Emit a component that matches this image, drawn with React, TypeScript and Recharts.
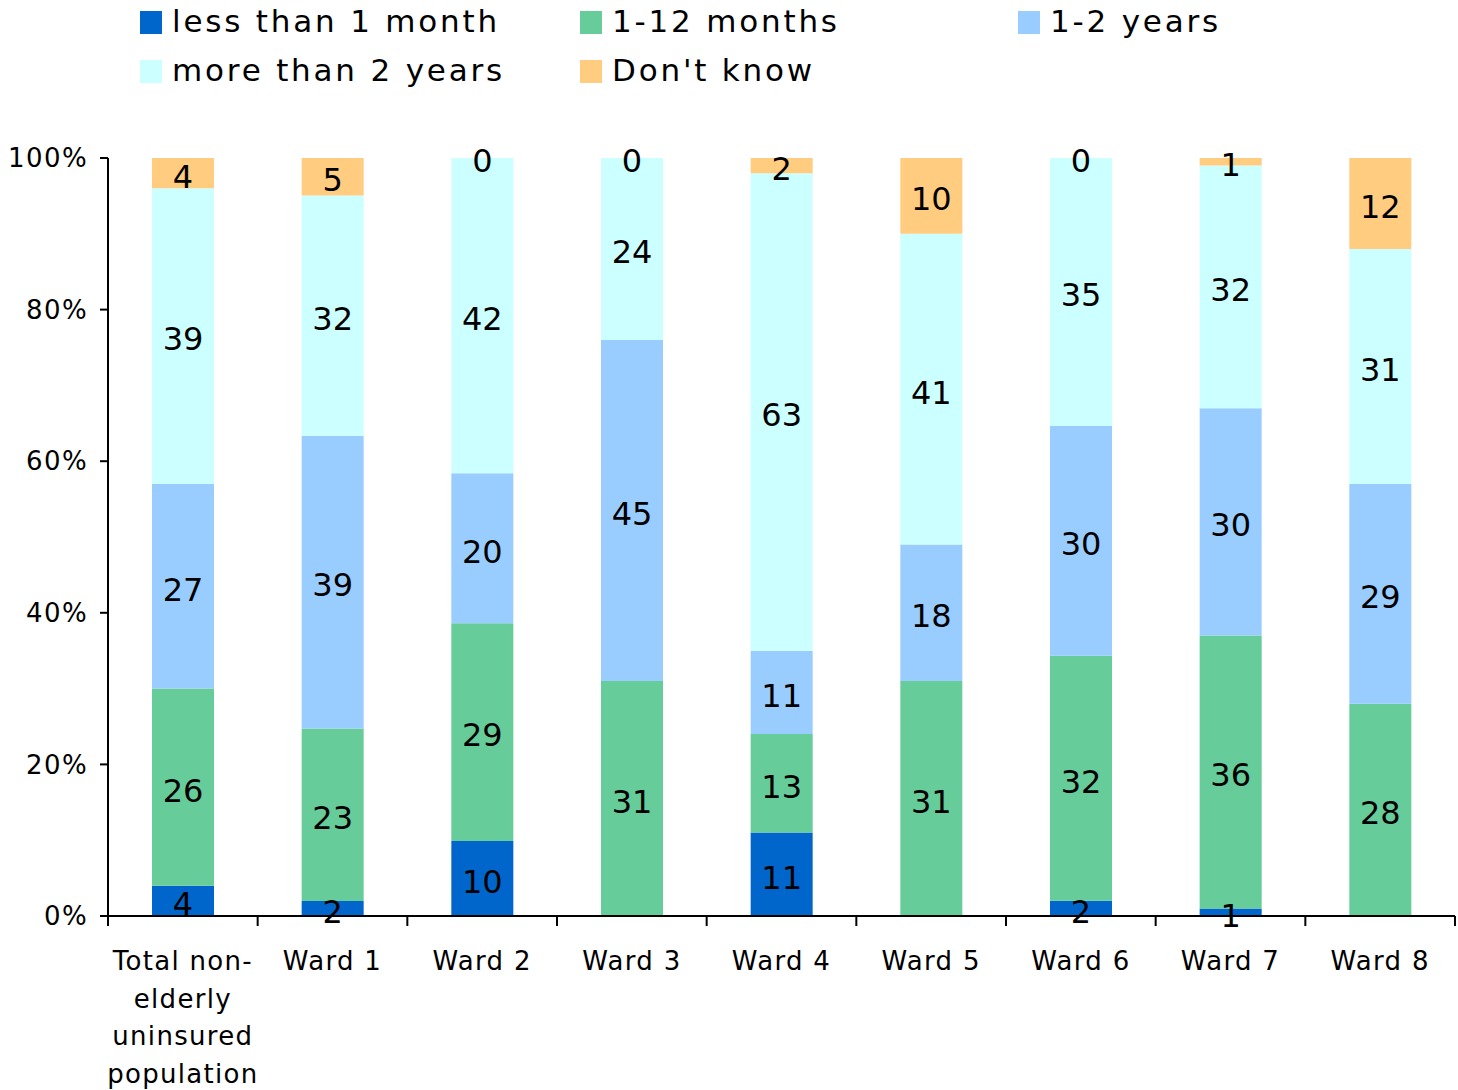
import React from 'react'
import { BarChart, Bar, XAxis, YAxis, LabelList } from 'recharts'

const CATEGORIES = [
  'Total non-elderly uninsured population',
  'Ward 1', 'Ward 2', 'Ward 3', 'Ward 4', 'Ward 5', 'Ward 6', 'Ward 7', 'Ward 8',
]
// null = no segment / no label in the original
const LESS_1M = [4, 2, 10, null, 11, null, 2, 1, null]
const M1_12 = [26, 23, 29, 31, 13, 31, 32, 36, 28]
const Y1_2 = [27, 39, 20, 45, 11, 18, 30, 30, 29]
const MORE_2Y = [39, 32, 42, 24, 63, 41, 35, 32, 31]
const DONT_KNOW = [4, 5, 0, 0, 2, 10, 0, 1, 12]
const Y_TICKS = [0, 0.2, 0.4, 0.6, 0.8, 1]

const SERIES = [
  { key: 'lt1', name: 'less than 1 month', values: LESS_1M, color: '#0066CC' },
  { key: 'm112', name: '1-12 months', values: M1_12, color: '#66CC99' },
  { key: 'y12', name: '1-2 years', values: Y1_2, color: '#99CCFF' },
  { key: 'gt2', name: 'more than 2 years', values: MORE_2Y, color: '#CCFFFF' },
  { key: 'dk', name: "Don't know", values: DONT_KNOW, color: '#FFCC80' },
]

const data = CATEGORIES.map((name, i) => {
  const row: any = { name }
  SERIES.forEach((s) => { row[s.key] = s.values[i] })
  return row
})

const WRAPPED: Record<string, string[]> = {
  'Total non-elderly uninsured population': ['Total non-', 'elderly', 'uninsured', 'population'],
}

const FONT = '"DejaVu Sans", Verdana, sans-serif'

// legend placement: [left, top] per series, two rows like the original
const LEGEND_POS: [number, number][] = [[140, 3], [580, 3], [1018, 3], [140, 52], [580, 52]]

function CatTick({ x, y, payload, index }: any) {
  const lines = WRAPPED[payload.value] ?? [payload.value]
  const half = payload.offset ?? 74.8
  return (
    <g>
      <line x1={x - half} x2={x - half} y1={y} y2={y + 10} stroke="#000" strokeWidth={2} />
      {index === CATEGORIES.length - 1 && (
        <line x1={x + half} x2={x + half} y1={y} y2={y + 10} stroke="#000" strokeWidth={2} />
      )}
      <text x={x} y={y} textAnchor="middle" fontSize={26} fill="#000" fontFamily={FONT} letterSpacing={1.3}>
        {lines.map((l: string, i: number) => (
          <tspan key={i} x={x} dy={i === 0 ? 54 : 37.5}>{l}</tspan>
        ))}
      </text>
    </g>
  )
}

// zero-height "Don't know" segments get no label from recharts, so put the 0 on top of the segment below
function ZeroTopLabel({ x, y, width, value }: any) {
  if (value !== 0) return null
  return (
    <text x={x + width / 2} y={y + 3} textAnchor="middle" dominantBaseline="central" fill="#000" fontSize={32} fontFamily={FONT}>
      0
    </text>
  )
}

export default function App() {
  return (
    <div style={{ position: 'absolute', left: 0, top: 0, width: 1458, height: 1090, background: '#fff', fontFamily: FONT }}>
      {SERIES.map((s, i) => (
        <div key={s.key} style={{ position: 'absolute', left: LEGEND_POS[i][0], top: LEGEND_POS[i][1], height: 36, display: 'flex', alignItems: 'center' }}>
          <span style={{ width: 22, height: 23, background: s.color, display: 'inline-block', marginRight: 10, marginTop: 2 }} />
          <span style={{ fontSize: 31, lineHeight: '36px', letterSpacing: 2.8, color: '#000' }}>{s.name}</span>
        </div>
      ))}
      <BarChart
        width={1458}
        height={1090}
        data={data}
        stackOffset="expand"
        barSize={62}
        margin={{ top: 158, right: 3, bottom: 144, left: 8 }}
      >
        <XAxis
          dataKey="name"
          interval={0}
          height={30}
          tickLine={false}
          tickSize={0}
          tickMargin={0}
          axisLine={{ stroke: '#000', strokeWidth: 2 }}
          tick={<CatTick />}
        />
        <YAxis
          type="number"
          domain={[0, 1]}
          ticks={Y_TICKS}
          width={100}
          tickSize={8}
          tickMargin={12}
          tickFormatter={(v: number) => `${Math.round(v * 100)}%`}
          tick={{ fontSize: 26, fill: '#000', fontFamily: FONT, letterSpacing: 1.4 }}
          tickLine={{ stroke: '#000', strokeWidth: 2 }}
          axisLine={{ stroke: '#000', strokeWidth: 2 }}
        />
        {SERIES.map((s) => (
          <Bar key={s.key} dataKey={s.key} name={s.name} stackId="a" fill={s.color} isAnimationActive={false}>
            <LabelList dataKey={s.key} position="center" fill="#000" fontSize={32} fontFamily={FONT} dy={3} />
            {s.key === 'gt2' && <LabelList dataKey="dk" content={<ZeroTopLabel />} />}
          </Bar>
        ))}
      </BarChart>
    </div>
  )
}
